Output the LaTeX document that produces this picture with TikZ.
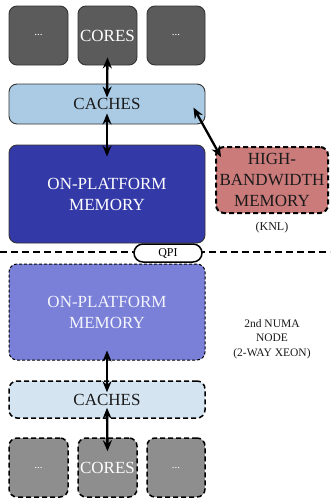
\documentclass[tikz,border=0pt]{standalone}
\usepackage{fontspec}
\setmainfont{Liberation Serif}
\usetikzlibrary{arrows.meta}
\definecolor{coreD}{HTML}{5B5B5B}
\definecolor{coreL}{HTML}{8E8E8E}
\definecolor{cacheD}{HTML}{ABCBE4}
\definecolor{cacheL}{HTML}{D4E4F1}
\definecolor{memD}{HTML}{3439A8}
\definecolor{memL}{HTML}{7A7FD8}
\definecolor{hbmC}{HTML}{CC7B7B}
\definecolor{txtD}{HTML}{1A1A1A}
\tikzset{
  box/.style={rounded corners=8pt, inner sep=0pt, align=center, font=\fontsize{17}{21}\selectfont},
  solidbox/.style={box, draw=black!80, line width=0.9pt},
  dashbox/.style={box, draw=black, line width=1.5pt, dash pattern=on 5pt off 3pt},
  thindash/.style={box, draw=black, line width=1pt, dash pattern=on 3pt off 2pt},
  dots/.style={font=\fontsize{11}{13}\selectfont},
  arr/.style={line width=2.3pt, {Stealth[length=11pt,width=9pt]}-{Stealth[length=11pt,width=9pt]}},
  small/.style={font=\fontsize{12}{15}\selectfont, align=center, text=txtD}
}
\begin{document}
\begin{tikzpicture}[x=1pt,y=-1pt]
\useasboundingbox (0,0) rectangle (330,498);
% divider
\coordinate (dl) at (0,252);
\coordinate (dr) at (330,252);
\draw[line width=2.5pt, dash pattern=on 7pt off 4pt] (dl) -- (dr);
% top cores
\node[solidbox, dots, fill=coreD, text=white, minimum width=59pt, minimum height=59pt] (c1) at (38.5,35.5) {...};
\node[solidbox, fill=coreD, text=white, minimum width=59pt, minimum height=59pt] (c2) at (107.5,35.5) {CORES};
\node[solidbox, dots, fill=coreD, text=white, minimum width=58pt, minimum height=59pt] (c3) at (176,35.5) {...};
% caches
\node[solidbox, fill=cacheD, text=txtD, minimum width=196pt, minimum height=40pt] (ca) at (107,104) {CACHES};
% memory
\node[solidbox, fill=memD, text=white, minimum width=196pt, minimum height=98pt] (mem) at (107,194) {ON-PLATFORM\\MEMORY};
% HBM
\node[box, draw=black, line width=2pt, dash pattern=on 5pt off 3pt, fill=hbmC, text=txtD, minimum width=112pt, minimum height=66pt] (hbm) at (272,180) {HIGH-\\BANDWIDTH\\MEMORY};
\node[small] (knl) at (272,228) {(KNL)};
% QPI
\node[draw=black, line width=1.5pt, fill=white, rounded corners=9pt, minimum width=68pt, minimum height=18pt, inner sep=0pt, font=\fontsize{12}{14}\selectfont] (qpi) at (168,253) {QPI};
% lower memory
\node[thindash, fill=memL, text=white!92!memL, minimum width=196pt, minimum height=96pt] (lmem) at (107,312) {ON-PLATFORM\\MEMORY};
\node[small, font=\fontsize{11.5}{14.5}\selectfont] (numa) at (272,339) {2nd NUMA\\NODE\\(2-WAY XEON)};
% lower caches
\node[dashbox, fill=cacheL, text=txtD, minimum width=196pt, minimum height=37pt] (lca) at (107,399.5) {CACHES};
% lower cores
\node[dashbox, dots, fill=coreL, text=white, minimum width=59pt, minimum height=59pt] (l1) at (38.5,467.5) {...};
\node[dashbox, fill=coreL, text=white, minimum width=59pt, minimum height=59pt] (l2) at (107.5,467.5) {CORES};
\node[dashbox, dots, fill=coreL, text=white, minimum width=58pt, minimum height=59pt] (l3) at (176,467.5) {...};
% arrows
\draw[arr] ([yshift=8pt]c2.south) -- ([yshift=-14pt]ca.north);
\draw[arr] ([yshift=11pt]ca.south) -- ([yshift=-12pt]mem.north);
\draw[arr] ([xshift=-12pt,yshift=-24pt]ca.north east) -- ([xshift=6pt,yshift=-11pt]hbm.north west);
\draw[arr] ([yshift=10pt]lmem.south) -- ([yshift=-12pt]lca.north);
\draw[arr] ([yshift=11pt]lca.south) -- ([yshift=-14pt]l2.north);
\end{tikzpicture}
\end{document}
